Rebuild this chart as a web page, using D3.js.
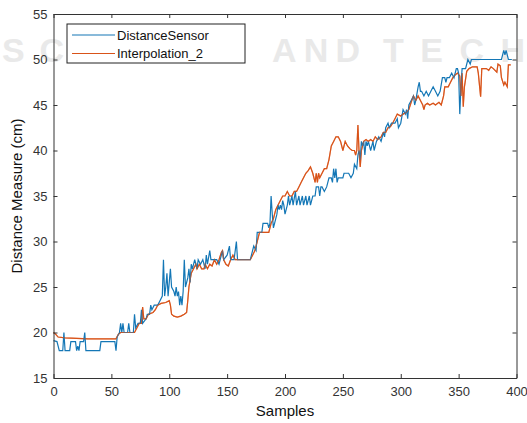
<!DOCTYPE html>
<html>
<head>
<meta charset="utf-8">
<script src="https://cdn.jsdelivr.net/npm/d3@7"></script>
<style>
  body { margin: 0; background: #fff; }
  svg { display: block; font-family: "Liberation Sans", Arial, sans-serif; }
</style>
</head>
<body>
<svg width="527" height="423"></svg>
<script>
// x ticks / y ticks
var xTicks = [0, 50, 100, 150, 200, 250, 300, 350, 400];
var yTicks = [15, 20, 25, 30, 35, 40, 45, 50, 55];
var seriesNames = ["DistanceSensor", "Interpolation_2"];

// DistanceSensor: [sample, cm]
var sensorData = [
  [0,19.1],[3,19],[5,18],[8,18],[9,20],[10,18],[14,18],[15,19],[19,19],[20,18],[21,18.5],[22,18],[23,19],
  [26,19],[27,20],[28,18],[35,18],[40,18],[41,19],[50,19],[53,19],[54,18],[55,19.5],[57,20],[58,21],
  [59,20],[60,21],[61,20],[64,20],[65,21],[66,20],[69,20],[70,22],[71,20.5],[73,21],[75,21],[76,22.5],
  [77,21],[80,21.5],[81,22],[83,22],[84,23],[85,22.5],[87,23],[90,23],[92,23.5],[94,24],[95,28],[96,24],
  [97,25],[98,26.5],[99,24],[101,27],[102,25],[104,24.5],[105,24],[106,25],[107,24],[108,24.5],[109,23],
  [110,24],[111,23],[112,24.5],[113,28],[114,25],[116,26],[117,27],[118,25.5],[119,27.5],[120,27],[122,28],
  [124,27],[125,28],[127,27.5],[129,28],[131,27],[132,28.5],[133,27.5],[135,29],[136,28],[139,28],[141,28],
  [143,27.5],[144,28],[146,29],[147,28],[150,28.5],[152,29.5],[153,28],[156,28],[158,30],[159,28],[170,28],
  [171,28.5],[173,29.5],[175,29],[176,31],[177,31],[180,31],[181,32],[185,32],[186,31.5],[187,32],[188,35],
  [189,33],[190,31.5],[191,32],[193,33],[194,34],[195,33.5],[196,34],[197,33.5],[198,34.5],[199,34],[200,33],
  [202,34],[203,35],[204,34],[206,35],[207,34],[209,35.5],[210,34],[212,35],[213,34],[215,35],[216,34],
  [218,35],[219,34],[221,35],[222,34],[224,35],[226,35],[227,36],[229,36],[230,35],[231,36],[232,36],
  [234,35.5],[236,36],[238,37],[240,37],[241,36.5],[242,38],[243,37],[244,38],[245,36.5],[246,37],[250,37],
  [251,37.5],[255,37.5],[257,37],[259,37.5],[260,38.5],[262,38],[263,39.5],[264,40],[265,39],[266,41],
  [267,40.5],[268,41],[269,39.5],[270,41],[271,40.5],[272,41],[274,40],[276,41],[277,40],[279,41],[281,41.5],
  [283,41],[285,42],[286,41.5],[287,42.5],[289,43],[290,42.5],[292,43],[295,43],[297,43.5],[298,42.5],
  [300,43],[302,44.5],[304,44],[305,44.5],[306,43.5],[307,45],[309,45.5],[311,46],[312,45],[313,45.5],
  [315,47],[316,47.5],[317,46.5],[318,46.5],[320,46],[322,46.5],[324,46],[326,46.5],[328,47],[330,46.5],
  [332,46],[334,46.5],[336,48],[338,48],[339,47.5],[340,48],[342,48],[344,48.5],[346,48],[348,49],[349,49],
  [350,48.5],[351,44],[352,47],[353,49],[356,49],[358,50],[360,49.5],[361,50],[385,50],[387,50],[389,51],
  [390,50.5],[391,51],[393,50],[396,50]
];

// Interpolation_2: [sample, cm]
var interpData = [
  [0,20],[2,19.8],[4,19.5],[10,19.4],[30,19.3],[50,19.3],[54,19.3],[56,19.8],[58,20],[70,20],[72,20.5],
  [74,21],[76,21],[77,22.8],[78,21.5],[80,21.5],[82,22],[86,22.2],[88,22.5],[90,23],[93,23.2],[97,23.3],
  [100,23.5],[101,23],[102,22],[104,21.8],[107,21.7],[110,21.8],[113,22],[115,22.2],[116,23.5],[117,25],
  [119,26.5],[121,27],[123,27.5],[124,27],[126,27.5],[128,27],[130,27],[131,27.5],[133,27],[135,27.5],
  [137,27.3],[139,28],[141,27.5],[143,28],[145,28.8],[146,29],[147,28],[149,27.5],[151,27.3],[153,28],
  [155,28.5],[157,28],[160,28],[170,28],[172,28.5],[174,29],[176,30],[178,31],[186,31],[188,32],[190,32.5],
  [192,33.5],[194,34],[196,34.5],[198,35],[200,35],[202,35.5],[204,35],[206,35],[208,35.5],[210,35.5],
  [212,36],[214,36.5],[216,37],[218,37.5],[220,37.8],[222,38.2],[224,37.5],[226,36.5],[227,37.5],[228,36.5],
  [229,37.5],[230,37],[232,37.5],[234,38],[236,38],[238,39],[240,40.5],[242,41],[244,41.5],[246,41.5],
  [248,41],[250,40],[252,41],[254,40.5],[256,40.2],[258,40],[260,40],[261,39.5],[262,40],[263,42.8],
  [264,39.8],[265,38.2],[266,40],[268,41],[270,41.2],[272,41],[274,41.2],[276,41],[278,41.5],[280,41.2],
  [283,41.5],[285,42],[287,42],[289,42.5],[291,42.6],[293,43],[295,43.5],[297,44],[300,43.8],[302,44],
  [305,44.2],[307,44.5],[309,45.3],[311,46],[313,45.5],[315,46],[317,45.5],[319,45],[320,44.5],[321,45],
  [323,45.2],[325,45],[328,45.2],[330,45],[333,45.3],[335,45],[337,46],[338,47],[341,47],[343,47.5],
  [345,48],[347,48.3],[349,48.5],[351,48.2],[352,46],[353,48.5],[354,44.8],[355,47],[357,48.7],[359,49],
  [362,49.2],[366,49.2],[367,48.5],[369,45.9],[370,49],[374,49],[376,48.8],[378,49.2],[380,49],[383,48.6],
  [384,49.5],[386,49.3],[387,48],[389,47.2],[390,47.5],[392,47],[393,49.4],[395,49.4]
];

var colors = ["#1477b6", "#d95319"];

var svg = d3.select("svg");
var plotLeft = 53.5, plotRight = 516.5, plotTop = 14, plotBottom = 378;

var x = d3.scaleLinear().domain([0, 400]).range([plotLeft, plotRight]);
var y = d3.scaleLinear().domain([15, 55]).range([plotBottom, plotTop]);

// faint watermark behind the plot
var mark = svg.append("g")
    .attr("font-size", 34)
    .attr("font-weight", "bold")
    .attr("fill", "#e9e9e9");
[["SCIENCE", 2, 240], ["AND", 272, 88], ["TECH", 383, 142]].forEach(function (w) {
    mark.append("text")
        .attr("x", w[1]).attr("y", 62)
        .attr("textLength", w[2]).attr("lengthAdjust", "spacing")
        .text(w[0]);
});

var axisColor = "#333";

var line = d3.line()
    .x(function (d) { return x(d[0]); })
    .y(function (d) { return y(d[1]); });

var plot = svg.append("g");
plot.append("path").datum(interpData)
    .attr("fill", "none").attr("stroke", colors[1]).attr("stroke-width", 1.2)
    .attr("d", line);
plot.append("path").datum(sensorData)
    .attr("fill", "none").attr("stroke", colors[0]).attr("stroke-width", 1.2)
    .attr("d", line);
// orange shows through on top in the original; redraw it faintly
plot.append("path").datum(interpData)
    .attr("fill", "none").attr("stroke", colors[1]).attr("stroke-width", 1.2)
    .attr("stroke-opacity", 0.5)
    .attr("d", line);

// axes (box with inward ticks)
var xAxis = svg.append("g")
    .attr("transform", "translate(0," + plotBottom + ")")
    .call(d3.axisBottom(x).tickValues(xTicks).tickSizeInner(-4).tickSizeOuter(0).tickPadding(9));
var yAxis = svg.append("g")
    .attr("transform", "translate(" + plotLeft + ",0)")
    .call(d3.axisLeft(y).tickValues(yTicks).tickSizeInner(-4).tickSizeOuter(0).tickPadding(6));
var xTop = svg.append("g")
    .attr("transform", "translate(0," + plotTop + ")")
    .call(d3.axisTop(x).tickValues(xTicks).tickSizeInner(-4).tickSizeOuter(0).tickFormat(""));
var yRight = svg.append("g")
    .attr("transform", "translate(" + plotRight + ",0)")
    .call(d3.axisRight(y).tickValues(yTicks).tickSizeInner(-4).tickSizeOuter(0).tickFormat(""));

[xAxis, yAxis, xTop, yRight].forEach(function (g) {
    g.selectAll("path").attr("stroke", axisColor).attr("stroke-width", 1);
    g.selectAll("line").attr("stroke", axisColor);
    g.selectAll("text").attr("fill", "#333").attr("font-size", 13)
        .attr("font-family", "Liberation Sans, Arial, sans-serif");
});

svg.append("text")
    .attr("x", (plotLeft + plotRight) / 2).attr("y", 416)
    .attr("text-anchor", "middle").attr("font-size", 15).attr("fill", "#111")
    .text("Samples");
svg.append("text")
    .attr("transform", "translate(22," + ((plotTop + plotBottom) / 2) + ") rotate(-90)")
    .attr("text-anchor", "middle").attr("font-size", 15).attr("fill", "#111")
    .text("Distance Measure (cm)");

// legend
var legend = svg.append("g");
legend.append("rect")
    .attr("x", 67).attr("y", 24).attr("width", 178).attr("height", 39)
    .attr("fill", "#fff").attr("stroke", "#222").attr("stroke-width", 1);
seriesNames.forEach(function (name, i) {
    var ly = 35 + i * 18.5;
    legend.append("line")
        .attr("x1", 72).attr("x2", 115).attr("y1", ly).attr("y2", ly)
        .attr("stroke", colors[i]).attr("stroke-width", 1.2);
    legend.append("text")
        .attr("x", 117).attr("y", ly + 4.5)
        .attr("font-size", 13).attr("fill", "#111")
        .text(name);
});
</script>
</body>
</html>
